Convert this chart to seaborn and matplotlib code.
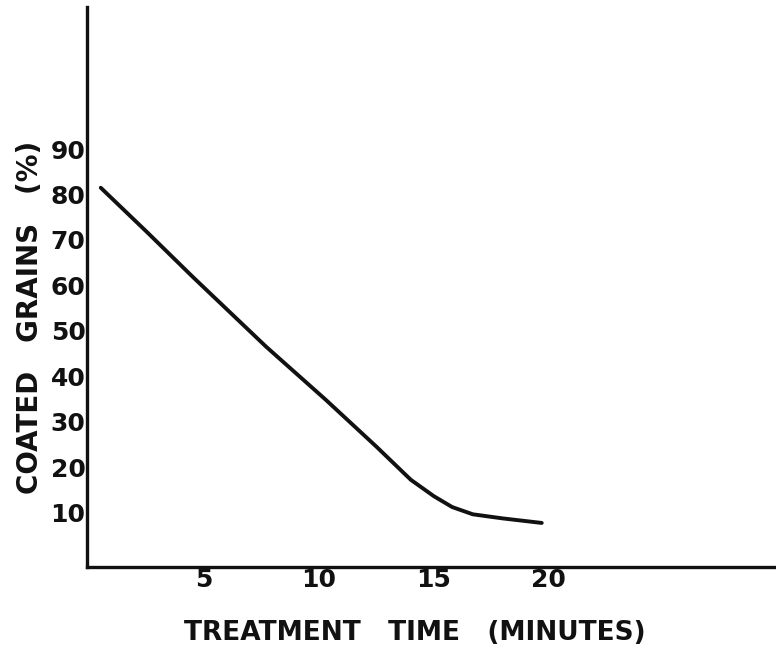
"""
Coated grains (%) against treatment time, redrawn from a scanned figure.
"""

import matplotlib
matplotlib.use("Agg")
import matplotlib.pyplot as plt
import pandas as pd
import seaborn as sns

# values
time_min = [0.5, 2.5, 4.5, 7.7, 10.3, 12.5, 14.0, 15.0, 15.8, 16.7, 18.0, 19.7]
coated_pct = [81.5, 71.8, 61.9, 46.5, 34.8, 24.5, 17.2, 13.6, 11.2, 9.6, 8.7, 7.7]

x_ticks = [5, 10, 15, 20]
y_ticks = [10, 20, 30, 40, 50, 60, 70, 80, 90]

df = pd.DataFrame({"time": time_min, "coated": coated_pct})

sns.set_style("white")
plt.rcParams["font.family"] = ["DejaVu Sans"]

fig = plt.figure(figsize=(7.76, 6.5), dpi=100)
ax = fig.add_axes([87 / 776, 1 - 567 / 650, 1 - 87 / 776, (567 - 7) / 650])

sns.lineplot(data=df, x="time", y="coated", ax=ax, color="#111111",
             linewidth=2.8, solid_capstyle="round", solid_joinstyle="round")

ax.set_xlim(-0.1, 29.9)
ax.set_ylim(-2, 121.3)

ax.set_xticks(x_ticks)
ax.set_xticklabels([str(t) for t in x_ticks])
ax.set_yticks(y_ticks)
ax.set_yticklabels([str(t) for t in y_ticks])
ax.tick_params(axis="both", length=0, labelsize=18, colors="#111111")
ax.tick_params(axis="y", pad=1)
ax.tick_params(axis="x", pad=1)
for lbl in ax.get_xticklabels() + ax.get_yticklabels():
    lbl.set_fontweight("semibold")

for side in ["top", "right"]:
    ax.spines[side].set_visible(False)
for side in ["left", "bottom"]:
    ax.spines[side].set_linewidth(2.4)
    ax.spines[side].set_color("#111111")

ax.set_xlabel("TREATMENT   TIME   (MINUTES)", fontsize=19, fontweight="bold",
              color="#111111")
ax.set_ylabel("COATED   GRAINS   (%)", fontsize=20, fontweight="bold",
              color="#111111")
ax.xaxis.set_label_coords(0.476, -0.095)
ax.yaxis.set_label_coords(-0.063, 0.445)

fig.savefig("out.png", dpi=100)
